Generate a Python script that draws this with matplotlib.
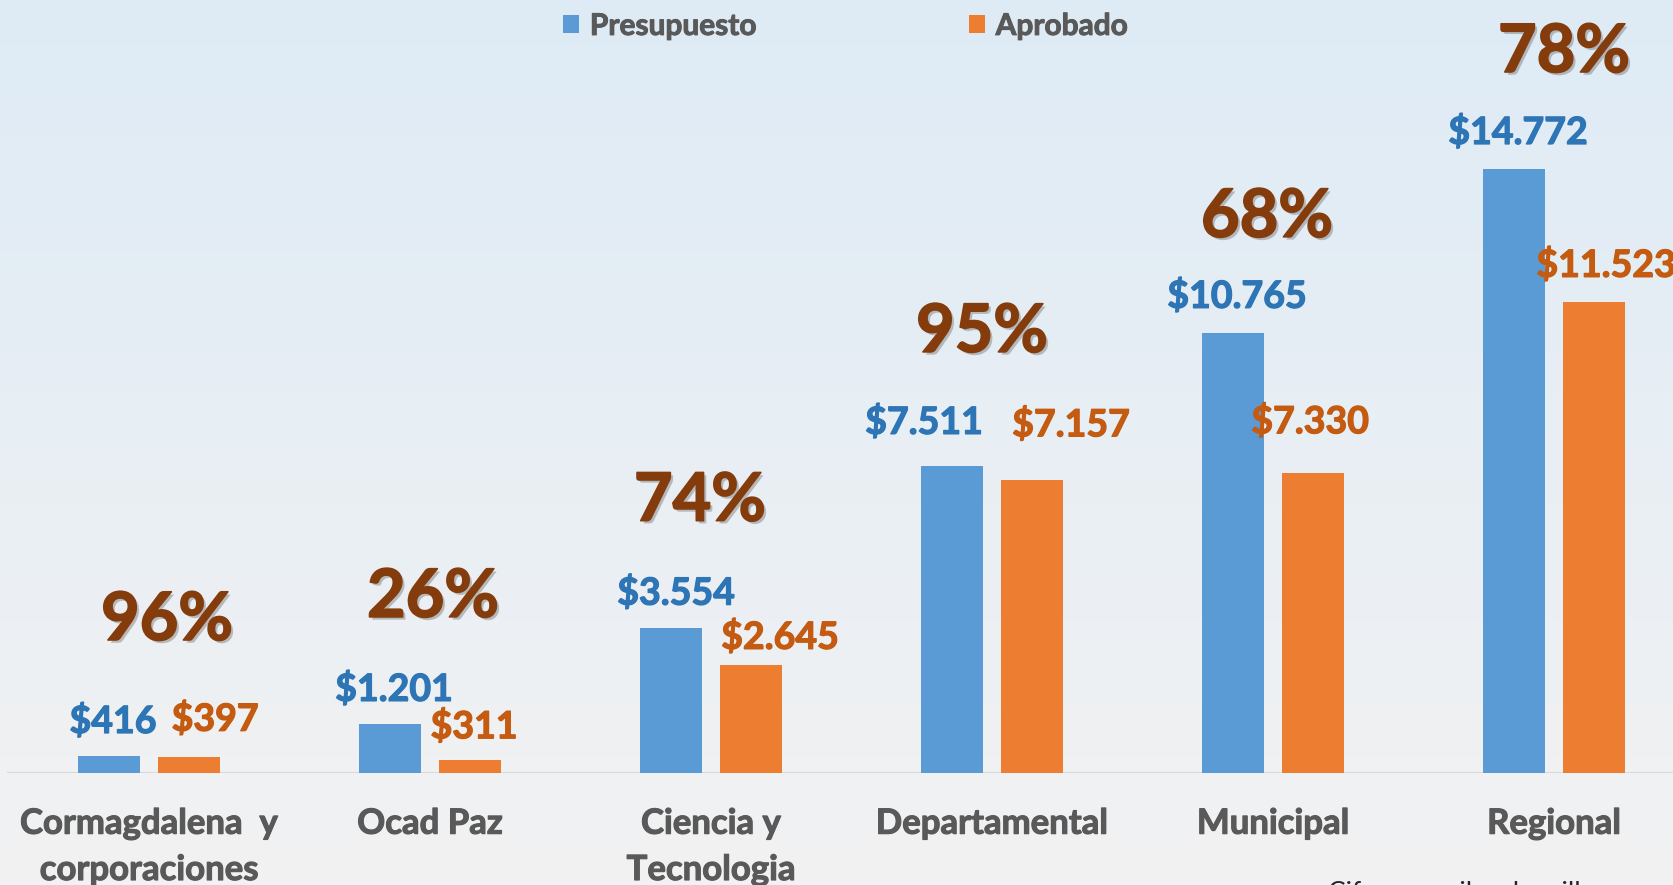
import numpy as np
import matplotlib.pyplot as plt
import matplotlib.patheffects as pe

categorias = ['Cormagdalena  y\ncorporaciones', 'Ocad Paz', 'Ciencia y\nTecnologia',
              'Departamental', 'Municipal', 'Regional']
presupuesto = [416, 1201, 3554, 7511, 10765, 14772]
aprobado = [397, 311, 2645, 7157, 7330, 11523]
etiq_presupuesto = ['$416', '$1.201', '$3.554', '$7.511', '$10.765', '$14.772']
etiq_aprobado = ['$397', '$311', '$2.645', '$7.157', '$7.330', '$11.523']
porcentajes = ['96%', '26%', '74%', '95%', '68%', '78%']

# label nudges in pixels (dx, dy)
off_pres = [(4, 35), (4, 35), (5, 35), (-28, 44), (4, 37), (4, 37)]
off_apro = [(26, 38), (4, 34), (29, 28), (39, 56), (-3, 52), (12, 37)]
off_pct = [(18, 135), (3, 126), (-11, 126), (-10, 133), (-6, 115), (10, 116)]

azul = '#5B9BD5'
naranja = '#ED7D31'
azul_txt = '#2E75B6'
naranja_txt = '#C55A11'
cafe = '#843C0C'
gris = '#595959'

plt.rcParams['font.family'] = ['Lato', 'DejaVu Sans']

W, H = 1674, 885
fig = plt.figure(figsize=(W / 100, H / 100), dpi=100)

# background gradient
bg = fig.add_axes([0, 0, 1, 1], zorder=-10)
top = np.array([222, 235, 246]) / 255
bot = np.array([242, 242, 242]) / 255
t = np.linspace(0, 1, 256)[:, None]
grad = top[None, :] * (1 - t) + bot[None, :] * t
bg.imshow(grad[:, None, :], aspect='auto', extent=[0, 1, 0, 1])
bg.axis('off')

base_px = 773
px_per_unit = 604 / 14772
ax = fig.add_axes([0, (H - base_px) / H, 1, base_px / H])
ax.patch.set_alpha(0)
ax.set_ylim(0, base_px / px_per_unit)
ax.set_xlim(-149 / 281, (W - 149) / 281)

x = np.arange(len(categorias))
ancho = 62 / 281
desp = 40 / 281
b1 = ax.bar(x - desp, presupuesto, ancho, color=azul, label='Presupuesto', zorder=3)
b2 = ax.bar(x + desp, aprobado, ancho, color=naranja, label='Aprobado', zorder=3)

ax.axhline(0, xmin=8.5 / W, xmax=1, color='#D9D9D9', lw=1.5, zorder=2)


def grueso(color, lw=0.9):
    return [pe.withStroke(linewidth=lw, foreground=color)]


for i in range(len(categorias)):
    ax.annotate(etiq_presupuesto[i], (x[i] - desp, presupuesto[i]), xytext=off_pres[i],
                textcoords='offset pixels', ha='center', va='center',
                fontsize=27, fontweight='bold', color=azul_txt, path_effects=grueso(azul_txt))
    ax.annotate(etiq_aprobado[i], (x[i] + desp, aprobado[i]), xytext=off_apro[i],
                textcoords='offset pixels', ha='center', va='center',
                fontsize=27, fontweight='bold', color=naranja_txt, path_effects=grueso(naranja_txt))
    ax.annotate(porcentajes[i], (x[i], max(presupuesto[i], aprobado[i])), xytext=off_pct[i],
                textcoords='offset pixels', ha='center', va='center',
                fontsize=48, fontweight='bold', color=cafe,
                path_effects=[pe.SimplePatchShadow(offset=(2, -2), shadow_rgbFace='#555555', alpha=0.35),
                              pe.withStroke(linewidth=1.2, foreground=cafe)])

ax.set_xticks(x)
ax.set_xticklabels(categorias, fontsize=25, fontweight='bold', color=gris, linespacing=1.55)
for lbl in ax.get_xticklabels():
    lbl.set_path_effects(grueso(gris, 0.8))
ax.tick_params(axis='x', length=0, pad=25)
ax.set_yticks([])
for s in ax.spines.values():
    s.set_visible(False)

leg = ax.legend(loc='upper center', bbox_to_anchor=(0.5 * (566 + 1125) / W, 1.0), ncol=2,
                frameon=False, prop={'weight': 'bold', 'size': 21.5},
                handlelength=0.55, handleheight=0.55, handletextpad=0.35, columnspacing=7.1,
                labelcolor=gris, borderaxespad=0.0)
for txt in leg.get_texts():
    txt.set_path_effects(grueso(gris, 0.7))

fig.text(1328 / W, 4 / H, 'Cifras en miles de millones', fontsize=19, color='#262626',
         ha='left', va='top')

fig.savefig('out.png', dpi=100)
